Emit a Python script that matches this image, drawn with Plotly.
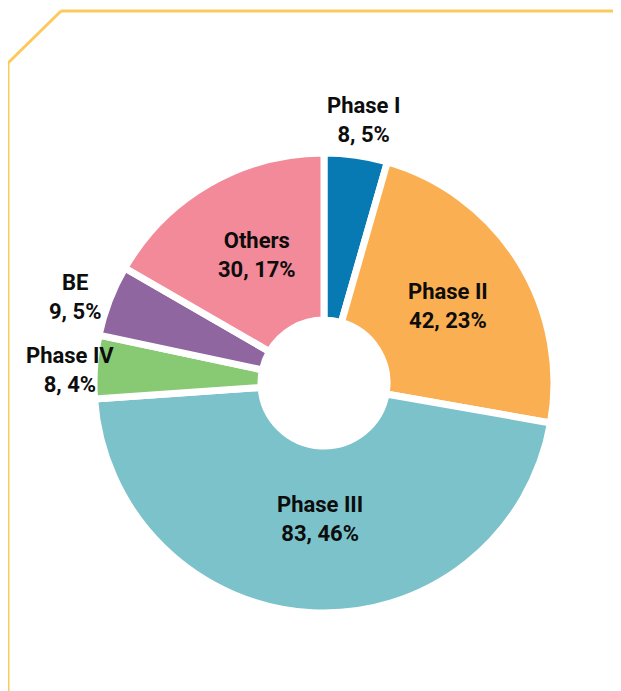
import plotly.graph_objects as go

# data
phases = ["Phase I", "Phase II", "Phase III", "Phase IV", "BE", "Others"]
counts = [8, 42, 83, 8, 9, 30]
shares = ["5%", "23%", "46%", "4%", "5%", "17%"]

COLORS = ["#0779b3", "#fab052", "#7cc2ca", "#88c974", "#8f66a0", "#f38a99"]
# label centres in page pixels (top-left of the browser window)
LABEL_XY = [(363, 120), (448, 306), (320, 519), (70, 370), (75, 297), (257, 255)]

OFF = 8                      # default body margin of the page
W, H = 621 - OFF, 691 - OFF  # figure size
cx, cy, r = 324 - OFF, 383 - OFF, 230


def to_paper(x, y):
    """page pixel -> paper coords"""
    return (x - OFF) / W, 1 - (y - OFF) / H


fig = go.Figure(go.Pie(
    labels=phases,
    values=counts,
    sort=False,
    direction="clockwise",
    rotation=0,
    hole=63 / r,
    marker=dict(colors=COLORS, line=dict(color="white", width=7)),
    textinfo="none",
    showlegend=False,
    domain=dict(x=[(cx - r) / W, (cx + r) / W], y=[(H - cy - r) / H, (H - cy + r) / H]),
))

for name, n, pct, (lx, ly) in zip(phases, counts, shares, LABEL_XY):
    ax, ay = to_paper(lx, ly)
    fig.add_annotation(
        text=f"{name}<br>{n}, {pct}",
        x=ax, y=ay, xref="paper", yref="paper",
        xanchor="center", yanchor="middle",
        showarrow=False, align="center",
        font=dict(size=22, color="#0d0d0d", family="Roboto", weight="bold"),
    )

# yellow frame with clipped corner
frame = "#fdc95c"
pts = [(8, 700), (8, 63), (61, 11), (630, 11)]
for (x0, y0), (x1, y1) in zip(pts[:-1], pts[1:]):
    a, b = to_paper(x0, y0)
    c, d = to_paper(x1, y1)
    fig.add_shape(type="line", xref="paper", yref="paper", x0=a, y0=b, x1=c, y1=d,
                  line=dict(color=frame, width=3))

fig.update_layout(
    width=W, height=H,
    margin=dict(t=0, b=0, l=0, r=0),
    paper_bgcolor="white",
    plot_bgcolor="white",
)

fig.write_html("out.html")
